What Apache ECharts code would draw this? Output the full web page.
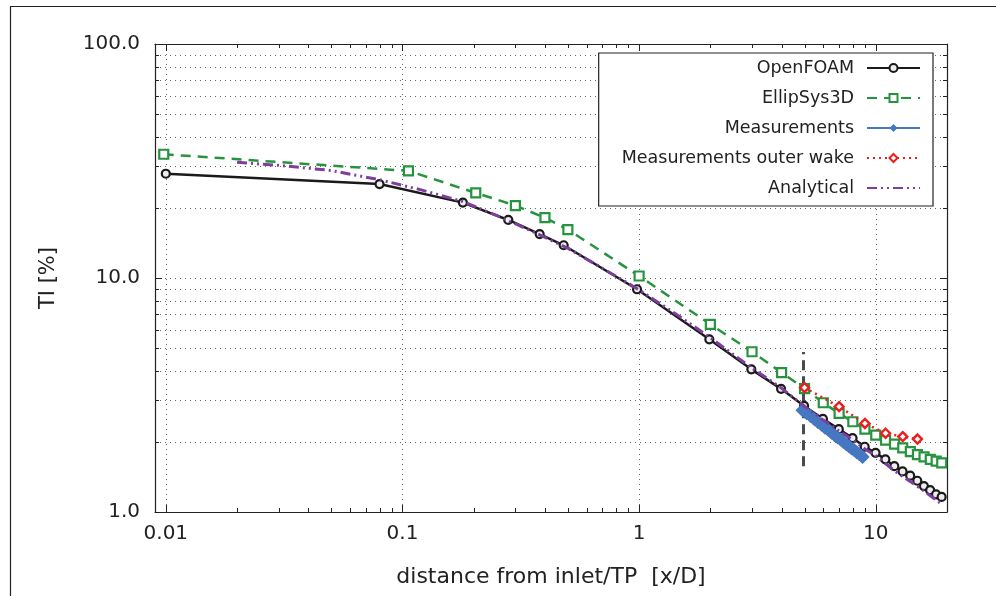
<!DOCTYPE html>
<html><head><meta charset="utf-8">
<script src="https://cdn.jsdelivr.net/npm/echarts@6/dist/echarts.min.js"></script>
<style>html,body{margin:0;padding:0;background:#fff}#c{width:996px;height:596px}</style>
</head><body><div id="c"></div>
<script>
// ---- tick labels ----
const xTickValues = [0.01, 0.1, 1, 10];
const xTickLabels = ['0.01', '0.1', '1', '10'];
const yTickValues = [1, 10, 100];
const yTickLabels = ['1.0', '10.0', '100.0'];
const xMinorTicks = [0.02,0.03,0.04,0.05,0.06,0.07,0.08,0.09,0.2,0.3,0.4,0.5,0.6,0.7,0.8,0.9,2,3,4,5,6,7,8,9];
const yMinorTicks = [2,3,4,5,6,7,8,9,20,30,40,50,60,70,80,90];

// ---- series data ----
const seriesNames = ['OpenFOAM', 'EllipSys3D', 'Measurements', 'Measurements outer wake', 'Analytical'];
const openfoamX = [0.01,0.08,0.18,0.28,0.38,0.48,0.98,1.98,2.98,3.98,4.98,5.98,6.98,7.98,8.98,9.98,10.98,11.98,12.98,13.98,14.98,15.98,16.98,17.98,18.98];
const openfoamY = [27.9,25.2,21.0,17.7,15.4,13.8,8.95,5.47,4.07,3.36,2.84,2.50,2.26,2.07,1.90,1.79,1.68,1.57,1.49,1.43,1.36,1.29,1.24,1.19,1.16];
const ellipsysX = [0.0098,0.106,0.204,0.30,0.40,0.50,1.0,2.0,3.0,4.0,5.0,6.0,7.0,8.0,9.0,10,11,12,13,14,15,16,17,18,19];
const ellipsysY = [33.8,28.7,23.1,20.4,18.1,16.1,10.2,6.34,4.84,3.94,3.37,2.93,2.64,2.43,2.26,2.13,2.03,1.95,1.88,1.81,1.76,1.72,1.68,1.65,1.62];
const measX = [4.9,5.1,5.3,5.5,5.7,5.9,6.1,6.3,6.5,6.7,6.9,7.1,7.3,7.5,7.7,7.9,8.1,8.3,8.5,8.7,8.8];
const measY = [2.72,2.64,2.57,2.49,2.42,2.36,2.29,2.24,2.18,2.13,2.08,2.04,1.99,1.95,1.91,1.87,1.84,1.80,1.77,1.74,1.72];
const outerX = [5,7,9,11,13,15];
const outerY = [3.40,2.82,2.39,2.17,2.10,2.05];
const analyticalX = [0.02,0.03,0.05,0.08,0.12,0.18,0.25,0.35,0.5,0.7,1,1.5,2,3,4,5,6,7,8,9,10,12,14,16,19];
const analyticalY = [31.2,30.3,28.8,26.3,23.8,21.2,18.5,15.9,13.4,11.0,8.9,6.8,5.55,4.12,3.38,2.83,2.47,2.22,2.03,1.86,1.74,1.50,1.35,1.23,1.08];
const markerX = [4.95, 4.95];
const markerY = [1.57, 4.83];

const XMIN = 0.009, XMAX = 20, YMIN = 1, YMAX = 100;
const FONT = 'DejaVu Sans';
const INK = '#222';

function zip(a, b) { return a.map((v, i) => [v, b[i]]); }
function fmt(values, labels) {
  return function (v) {
    for (let i = 0; i < values.length; i++) {
      if (Math.abs(Math.log10(v) - Math.log10(values[i])) < 1e-6) return labels[i];
    }
    return '';
  };
}

const chart = echarts.init(document.getElementById('c'), null, {renderer: 'canvas'});

function axisBase(extra) {
  return Object.assign({
    type: 'log', logBase: 10,
    axisLine: {show: true, lineStyle: {color: INK, width: 1.2}},
    axisTick: {show: true, inside: true, length: 7, lineStyle: {color: INK, width: 1}},
    splitLine: {show: false},
    minorTick: {show: false},
    minorSplitLine: {show: false}
  }, extra);
}

function renderYMinor(params, api) {
  const cs = params.coordSys;
  const y = Math.round(api.coord([XMIN, api.value(1)])[1]) + 0.5;
  const l = cs.x, r = cs.x + cs.width;
  return {type: 'group', children: [
    {type: 'line', shape: {x1: l, y1: y, x2: r, y2: y}, style: {stroke: '#666', lineWidth: 1, lineDash: [1, 4]}},
    {type: 'line', shape: {x1: l, y1: y, x2: l + 4, y2: y}, style: {stroke: INK, lineWidth: 1}},
    {type: 'line', shape: {x1: r - 4, y1: y, x2: r, y2: y}, style: {stroke: INK, lineWidth: 1}}
  ]};
}
function renderXMinor(params, api) {
  const cs = params.coordSys;
  const x = Math.round(api.coord([api.value(0), YMIN])[0]) + 0.5;
  const t = cs.y, b = cs.y + cs.height;
  return {type: 'group', children: [
    {type: 'line', shape: {x1: x, y1: b, x2: x, y2: b - 4}, style: {stroke: INK, lineWidth: 1}},
    {type: 'line', shape: {x1: x, y1: t, x2: x, y2: t + 4}, style: {stroke: INK, lineWidth: 1}}
  ]};
}

const option = {
  animation: false,
  backgroundColor: '#fff',
  textStyle: {fontFamily: FONT},
  graphic: [{
    type: 'rect', shape: {x: 10.5, y: 6.5, width: 1000, height: 600},
    style: {fill: null, stroke: INK, lineWidth: 1.2}, silent: true
  }],
  grid: {left: 155, right: 49, top: 44, bottom: 84},
  legend: {
    orient: 'vertical', right: 63, top: 53, align: 'right',
    itemWidth: 53, itemHeight: 10, itemGap: 12,
    padding: [6, 12, 9, 23],
    borderColor: INK, borderWidth: 1.2, backgroundColor: '#fff',
    textStyle: {fontSize: 17.5, color: INK, fontFamily: FONT, padding: [0, 8, 0, 0]},
    data: [
      {name: seriesNames[0]},
      {name: seriesNames[1]},
      {name: seriesNames[2]},
      {name: seriesNames[3]},
      {name: seriesNames[4], itemStyle: {opacity: 0}}
    ]
  },
  xAxis: [
    axisBase({
      position: 'bottom', min: XMIN, max: XMAX,
      name: 'distance from inlet/TP  [x/D]', nameLocation: 'middle', nameGap: 54,
      nameTextStyle: {fontSize: 22, color: INK, fontFamily: FONT},
      axisLabel: {formatter: fmt(xTickValues, xTickLabels), margin: 12, fontSize: 20, color: INK, fontFamily: FONT},
      splitLine: {show: true, lineStyle: {color: '#666', width: 1, type: [1, 4]}}
    }),
    axisBase({position: 'top', min: XMIN, max: XMAX, axisLabel: {show: false}})
  ],
  yAxis: [
    axisBase({
      position: 'left', min: YMIN, max: YMAX,
      name: 'TI [%]', nameLocation: 'middle', nameGap: 96,
      nameTextStyle: {fontSize: 21, color: INK, fontFamily: FONT},
      axisLabel: {formatter: fmt(yTickValues, yTickLabels), margin: 15, fontSize: 20, color: INK, fontFamily: FONT},
      splitLine: {show: true, lineStyle: {color: '#666', width: 1, type: [1, 4]}}
    }),
    axisBase({position: 'right', min: YMIN, max: YMAX, axisLabel: {show: false}})
  ],
  series: [
    {type: 'custom', name: 'yminor', coordinateSystem: 'cartesian2d', xAxisIndex: 0, yAxisIndex: 0, silent: true, z: 1,
     encode: {x: 0, y: 1}, data: yMinorTicks.map(v => [XMIN, v]), renderItem: renderYMinor},
    {type: 'custom', name: 'xminor', coordinateSystem: 'cartesian2d', xAxisIndex: 0, yAxisIndex: 0, silent: true, z: 1,
     encode: {x: 0, y: 1}, data: xMinorTicks.map(v => [v, YMIN]), renderItem: renderXMinor},
    {type: 'line', name: 'marker', data: zip(markerX, markerY), symbol: 'none', z: 2,
     lineStyle: {color: '#4a4a4a', width: 3, type: [10, 6]}},
    {type: 'line', name: seriesNames[0], data: zip(openfoamX, openfoamY), z: 3,
     symbol: 'circle', symbolSize: 8,
     itemStyle: {color: '#eee', borderColor: '#1a1a1a', borderWidth: 2.2},
     lineStyle: {color: '#1a1a1a', width: 2.5}},
    {type: 'line', name: seriesNames[1], data: zip(ellipsysX, ellipsysY), z: 4,
     symbol: 'rect', symbolSize: 9,
     itemStyle: {color: '#fff', borderColor: '#26943f', borderWidth: 2.2},
     lineStyle: {color: '#26943f', width: 2.5, type: [10, 7]}},
    {type: 'line', name: seriesNames[2], data: zip(measX, measY), z: 5,
     symbol: 'diamond', symbolSize: 14,
     itemStyle: {color: '#4677c2'},
     lineStyle: {color: '#4677c2', width: 3}},
    {type: 'line', name: seriesNames[3], data: zip(outerX, outerY), z: 6,
     symbol: 'diamond', symbolSize: 9,
     itemStyle: {color: '#fff', borderColor: '#ee1c1c', borderWidth: 2.4},
     lineStyle: {color: '#ee1c1c', width: 2.5, type: [2, 4]}},
    {type: 'line', name: seriesNames[4], data: zip(analyticalX, analyticalY), z: 7,
     symbol: 'none',
     itemStyle: {color: '#7d3f9e'},
     lineStyle: {color: '#7d3f9e', width: 3, type: [10, 4, 2, 4, 2, 4]}}
  ]
};
chart.setOption(option);
</script>
</body></html>
